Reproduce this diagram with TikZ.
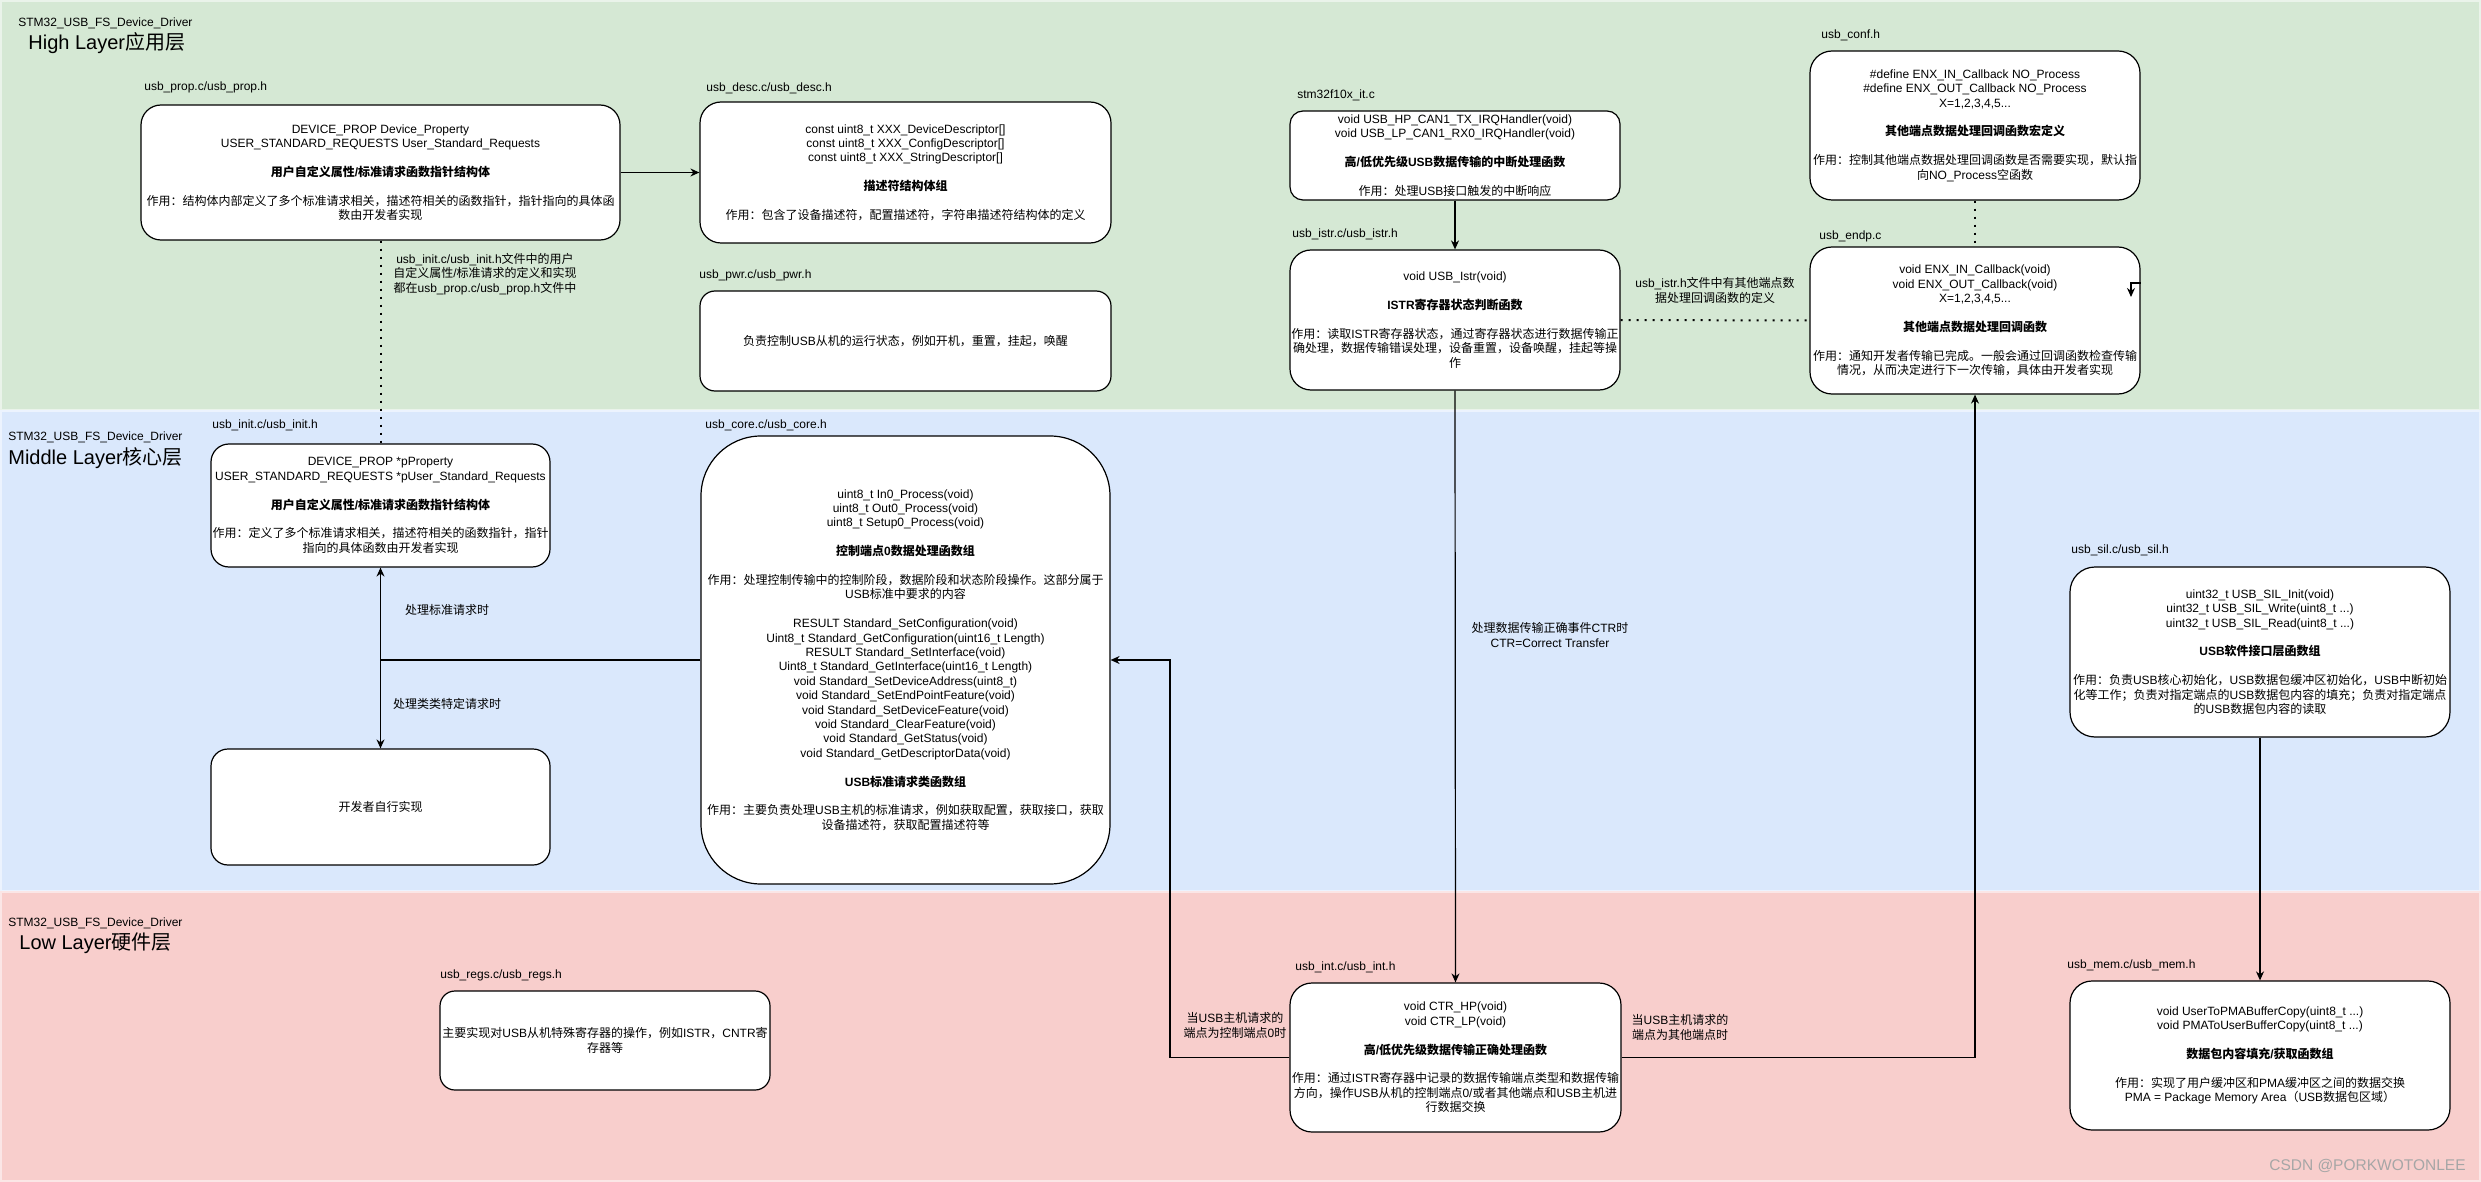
\documentclass[tikz,border=0pt]{standalone}
\usepackage{fontspec}
\usetikzlibrary{arrows.meta}
\setmainfont{Liberation Sans}
\newfontfamily\latf{Liberation Sans}
\newfontfamily\cjkf{Noto Sans CJK SC}
\XeTeXinterchartokenstate=1
\newXeTeXintercharclass\cjkcls
\newcount\cjkcnt
\def\cjkrange#1#2{\cjkcnt=#1\relax\loop\XeTeXcharclass\cjkcnt=\cjkcls\advance\cjkcnt by 1\relax\ifnum\cjkcnt<#2\relax\repeat}
\cjkrange{"4E00}{"A000}
\cjkrange{"3000}{"3040}
\cjkrange{"FF00}{"FFF0}
\XeTeXinterchartoks 0 \cjkcls = {\cjkf}
\XeTeXinterchartoks 4095 \cjkcls = {\cjkf}
\XeTeXinterchartoks \cjkcls 0 = {\latf}
\XeTeXinterchartoks 4095 0 = {\latf}
\newcommand\fs{\fontsize{6pt}{7.2pt}\selectfont}
\newcommand\fttl{\fontsize{10pt}{12pt}\selectfont}
\definecolor{lgreen}{HTML}{D5E8D4}
\definecolor{lblue}{HTML}{DAE8FC}
\definecolor{lred}{HTML}{F8CECC}
\definecolor{wmark}{HTML}{A6A6A6}
\tikzset{
  bx/.style={draw=black, fill=white, line width=0.6pt, inner sep=0pt, align=center, font=\fs},
  lbl/.style={inner sep=0pt, font=\fs, anchor=west},
  elbl/.style={inner sep=0pt, font=\fs, align=center},
  ttl/.style={inner sep=0pt, font=\fttl, anchor=west},
  arr/.style={line width=0.6pt, -{Stealth[length=4.5pt,width=4pt]}},
  ln/.style={line width=0.6pt},
  dotl/.style={line width=1pt, dash pattern=on 1pt off 3pt},
}
\begin{document}
\begin{tikzpicture}[x=0.5pt,y=-0.5pt]
\useasboundingbox (0,0) rectangle (2481,1182);
% layer bands
\fill[white] (0,0) rectangle (2481,1182);
\filldraw[fill=lgreen, draw=lgreen!50!white, line width=1pt] (1,1) rectangle (2480,410.5);
\filldraw[fill=lblue, draw=lblue!50!white, line width=1pt] (1,411.5) rectangle (2480,890.5);
\filldraw[fill=lred, draw=lred!50!white, line width=1pt] (1,891.5) rectangle (2480,1181);

% layer titles
\node[lbl] (t1a) at (18,23) {STM32\_USB\_FS\_Device\_Driver};
\node[ttl] (t1b) at (28,43) {High Layer应用层};
\node[lbl] (t2a) at (8,437) {STM32\_USB\_FS\_Device\_Driver};
\node[ttl] (t2b) at (8,458) {Middle Layer核心层};
\node[lbl] (t3a) at (8,923) {STM32\_USB\_FS\_Device\_Driver};
\node[ttl] (t3b) at (19,943) {Low Layer硬件层};

% file name labels
\node[lbl] (lprop) at (144,87) {usb\_prop.c/usb\_prop.h};
\node[lbl] (ldesc) at (706,88) {usb\_desc.c/usb\_desc.h};
\node[lbl] (lpwr) at (699,275) {usb\_pwr.c/usb\_pwr.h};
\node[lbl] (lit) at (1297,95) {stm32f10x\_it.c};
\node[lbl] (listr) at (1292,234) {usb\_istr.c/usb\_istr.h};
\node[lbl] (lconf) at (1821,35) {usb\_conf.h};
\node[lbl] (lendp) at (1819,236) {usb\_endp.c};
\node[lbl] (linit) at (212,425) {usb\_init.c/usb\_init.h};
\node[lbl] (lcore) at (705,425) {usb\_core.c/usb\_core.h};
\node[lbl] (lsil) at (2071,550) {usb\_sil.c/usb\_sil.h};
\node[lbl] (lregs) at (440,975) {usb\_regs.c/usb\_regs.h};
\node[lbl] (lint) at (1295,967) {usb\_int.c/usb\_int.h};
\node[lbl] (lmem) at (2067,965) {usb\_mem.c/usb\_mem.h};

% boxes
\node[bx, minimum width=239.5pt, minimum height=67.5pt, rounded corners=10pt] (prop) at (380.5,172.5)
{DEVICE\_PROP Device\_Property\\USER\_STANDARD\_REQUESTS User\_Standard\_Requests\\[7.2pt]{\bfseries 用户自定义属性/标准请求函数指针结构体}\\[7.2pt]作用：结构体内部定义了多个标准请求相关，描述符相关的函数指针，指针指向的具体函\\数由开发者实现};

\node[bx, minimum width=205.5pt, minimum height=70.5pt, rounded corners=10.5pt] (desc) at (905.5,172.5)
{const uint8\_t XXX\_DeviceDescriptor[]\\const uint8\_t XXX\_ConfigDescriptor[]\\const uint8\_t XXX\_StringDescriptor[]\\[7.2pt]{\bfseries 描述符结构体组}\\[7.2pt]作用：包含了设备描述符，配置描述符，字符串描述符结构体的定义};

\node[bx, minimum width=205.5pt, minimum height=50pt, rounded corners=7.5pt] (pwr) at (905.5,341)
{负责控制USB从机的运行状态，例如开机，重置，挂起，唤醒};

\node[bx, minimum width=165pt, minimum height=44.5pt, rounded corners=6.5pt] (it) at (1455,155.5)
{void USB\_HP\_CAN1\_TX\_IRQHandler(void)\\void USB\_LP\_CAN1\_RX0\_IRQHandler(void)\\[7.2pt]{\bfseries 高/低优先级USB数据传输的中断处理函数}\\[7.2pt]作用：处理USB接口触发的中断响应};

\node[bx, minimum width=165pt, minimum height=70pt, rounded corners=10.5pt] (istr) at (1455,320)
{void USB\_Istr(void)\\[7.2pt]{\bfseries ISTR寄存器状态判断函数}\\[7.2pt]作用：读取ISTR寄存器状态，通过寄存器状态进行数据传输正\\确处理，数据传输错误处理，设备重置，设备唤醒，挂起等操\\作};

\node[bx, minimum width=165pt, minimum height=74.5pt, rounded corners=11pt] (conf) at (1975,125.5)
{\#define ENX\_IN\_Callback NO\_Process\\\#define ENX\_OUT\_Callback NO\_Process\\X=1,2,3,4,5...\\[7.2pt]{\bfseries 其他端点数据处理回调函数宏定义}\\[7.2pt]作用：控制其他端点数据处理回调函数是否需要实现，默认指\\向NO\_Process空函数};

\node[bx, minimum width=165pt, minimum height=73.5pt, rounded corners=11pt] (endp) at (1975,320.5)
{void ENX\_IN\_Callback(void)\\void ENX\_OUT\_Callback(void)\\X=1,2,3,4,5...\\[7.2pt]{\bfseries 其他端点数据处理回调函数}\\[7.2pt]作用：通知开发者传输已完成。一般会通过回调函数检查传输\\情况，从而决定进行下一次传输，具体由开发者实现};

\node[bx, minimum width=169.5pt, minimum height=61.5pt, rounded corners=9pt] (init) at (380.5,505.5)
{DEVICE\_PROP *pProperty\\USER\_STANDARD\_REQUESTS *pUser\_Standard\_Requests\\[7.2pt]{\bfseries 用户自定义属性/标准请求函数指针结构体}\\[7.2pt]作用：定义了多个标准请求相关，描述符相关的函数指针，指针\\指向的具体函数由开发者实现};

\node[bx, minimum width=169.5pt, minimum height=58pt, rounded corners=8.5pt] (dev) at (380.5,807)
{开发者自行实现};

\node[bx, minimum width=204.5pt, minimum height=224pt, rounded corners=30pt] (core) at (905.5,660)
{uint8\_t In0\_Process(void)\\uint8\_t Out0\_Process(void)\\uint8\_t Setup0\_Process(void)\\[7.2pt]{\bfseries 控制端点0数据处理函数组}\\[7.2pt]作用：处理控制传输中的控制阶段，数据阶段和状态阶段操作。这部分属于\\USB标准中要求的内容\\[7.2pt]RESULT Standard\_SetConfiguration(void)\\Uint8\_t Standard\_GetConfiguration(uint16\_t Length)\\RESULT Standard\_SetInterface(void)\\Uint8\_t Standard\_GetInterface(uint16\_t Length)\\void Standard\_SetDeviceAddress(uint8\_t)\\void Standard\_SetEndPointFeature(void)\\void Standard\_SetDeviceFeature(void)\\void Standard\_ClearFeature(void)\\void Standard\_GetStatus(void)\\void Standard\_GetDescriptorData(void)\\[7.2pt]{\bfseries USB标准请求类函数组}\\[7.2pt]作用：主要负责处理USB主机的标准请求，例如获取配置，获取接口，获取\\设备描述符，获取配置描述符等};

\node[bx, minimum width=190pt, minimum height=85pt, rounded corners=12.5pt] (sil) at (2260,652)
{uint32\_t USB\_SIL\_Init(void)\\uint32\_t USB\_SIL\_Write(uint8\_t ...)\\uint32\_t USB\_SIL\_Read(uint8\_t ...)\\[7.2pt]{\bfseries USB软件接口层函数组}\\[7.2pt]作用：负责USB核心初始化，USB数据包缓冲区初始化，USB中断初始\\化等工作；负责对指定端点的USB数据包内容的填充；负责对指定端点\\的USB数据包内容的读取};

\node[bx, minimum width=165pt, minimum height=49.5pt, rounded corners=7.5pt] (regs) at (605,1040.5)
{主要实现对USB从机特殊寄存器的操作，例如ISTR，CNTR寄\\存器等};

\node[bx, minimum width=165.5pt, minimum height=74.5pt, rounded corners=11pt] (int) at (1455.5,1057.5)
{void CTR\_HP(void)\\void CTR\_LP(void)\\[7.2pt]{\bfseries 高/低优先级数据传输正确处理函数}\\[7.2pt]作用：通过ISTR寄存器中记录的数据传输端点类型和数据传输\\方向，操作USB从机的控制端点0/或者其他端点和USB主机进\\行数据交换};

\node[bx, minimum width=190pt, minimum height=74.5pt, rounded corners=11pt] (mem) at (2260,1055.5)
{void UserToPMABufferCopy(uint8\_t ...)\\void PMAToUserBufferCopy(uint8\_t ...)\\[7.2pt]{\bfseries 数据包内容填充/获取函数组}\\[7.2pt]作用：实现了用户缓冲区和PMA缓冲区之间的数据交换\\PMA = Package Memory Area（USB数据包区域）};

% edge labels
\node[elbl] (e1) at (485,274) {usb\_init.c/usb\_init.h文件中的用户\\自定义属性/标准请求的定义和实现\\都在usb\_prop.c/usb\_prop.h文件中};
\node[elbl] (e2) at (447,610) {处理标准请求时};
\node[elbl] (e3) at (447,704) {处理类类特定请求时};
\node[elbl] (e4) at (1715,290.5) {usb\_istr.h文件中有其他端点数\\据处理回调函数的定义};
\node[elbl] (e5) at (1550,635) {处理数据传输正确事件CTR时\\CTR=Correct Transfer};
\node[elbl] (e6) at (1235,1025.5) {当USB主机请求的\\端点为控制端点0时};
\node[elbl] (e7) at (1680,1027.5) {当USB主机请求的\\端点为其他端点时};
\node[inner sep=0pt, anchor=east, text=wmark, font=\fontsize{7.75pt}{9pt}\selectfont] (wm) at (2466,1166) {CSDN @PORKWOTONLEE};

% coordinates
\coordinate (j) at (380.5,660);
\coordinate (c1) at (1170,660);
\coordinate (s1) at (2131,283);
\coordinate (s2) at (2131,297);

% connectors
\draw[arr] (prop.east) -- (desc.west);
\draw[dotl] (prop.south) -- (init.north);
\draw[arr] (it.south) -- (istr.north);
\draw[dotl] (istr.east) -- (endp.west);
\draw[dotl] (conf.south) -- (endp.north);
\draw[arr] (istr.south) -- (int.north);
\draw[ln] (core.west) -- (j);
\draw[arr] (j) -- (init.south);
\draw[arr] (j) -- (dev.north);
\draw[arr] (int.west) -| (c1) -- (core.east);
\draw[arr] (int.east) -| (endp.south);
\draw[arr] (sil.south) -- (mem.north);
\draw[arr] (endp.east |- s1) -- (s1) -- (s2);
\end{tikzpicture}
\end{document}
